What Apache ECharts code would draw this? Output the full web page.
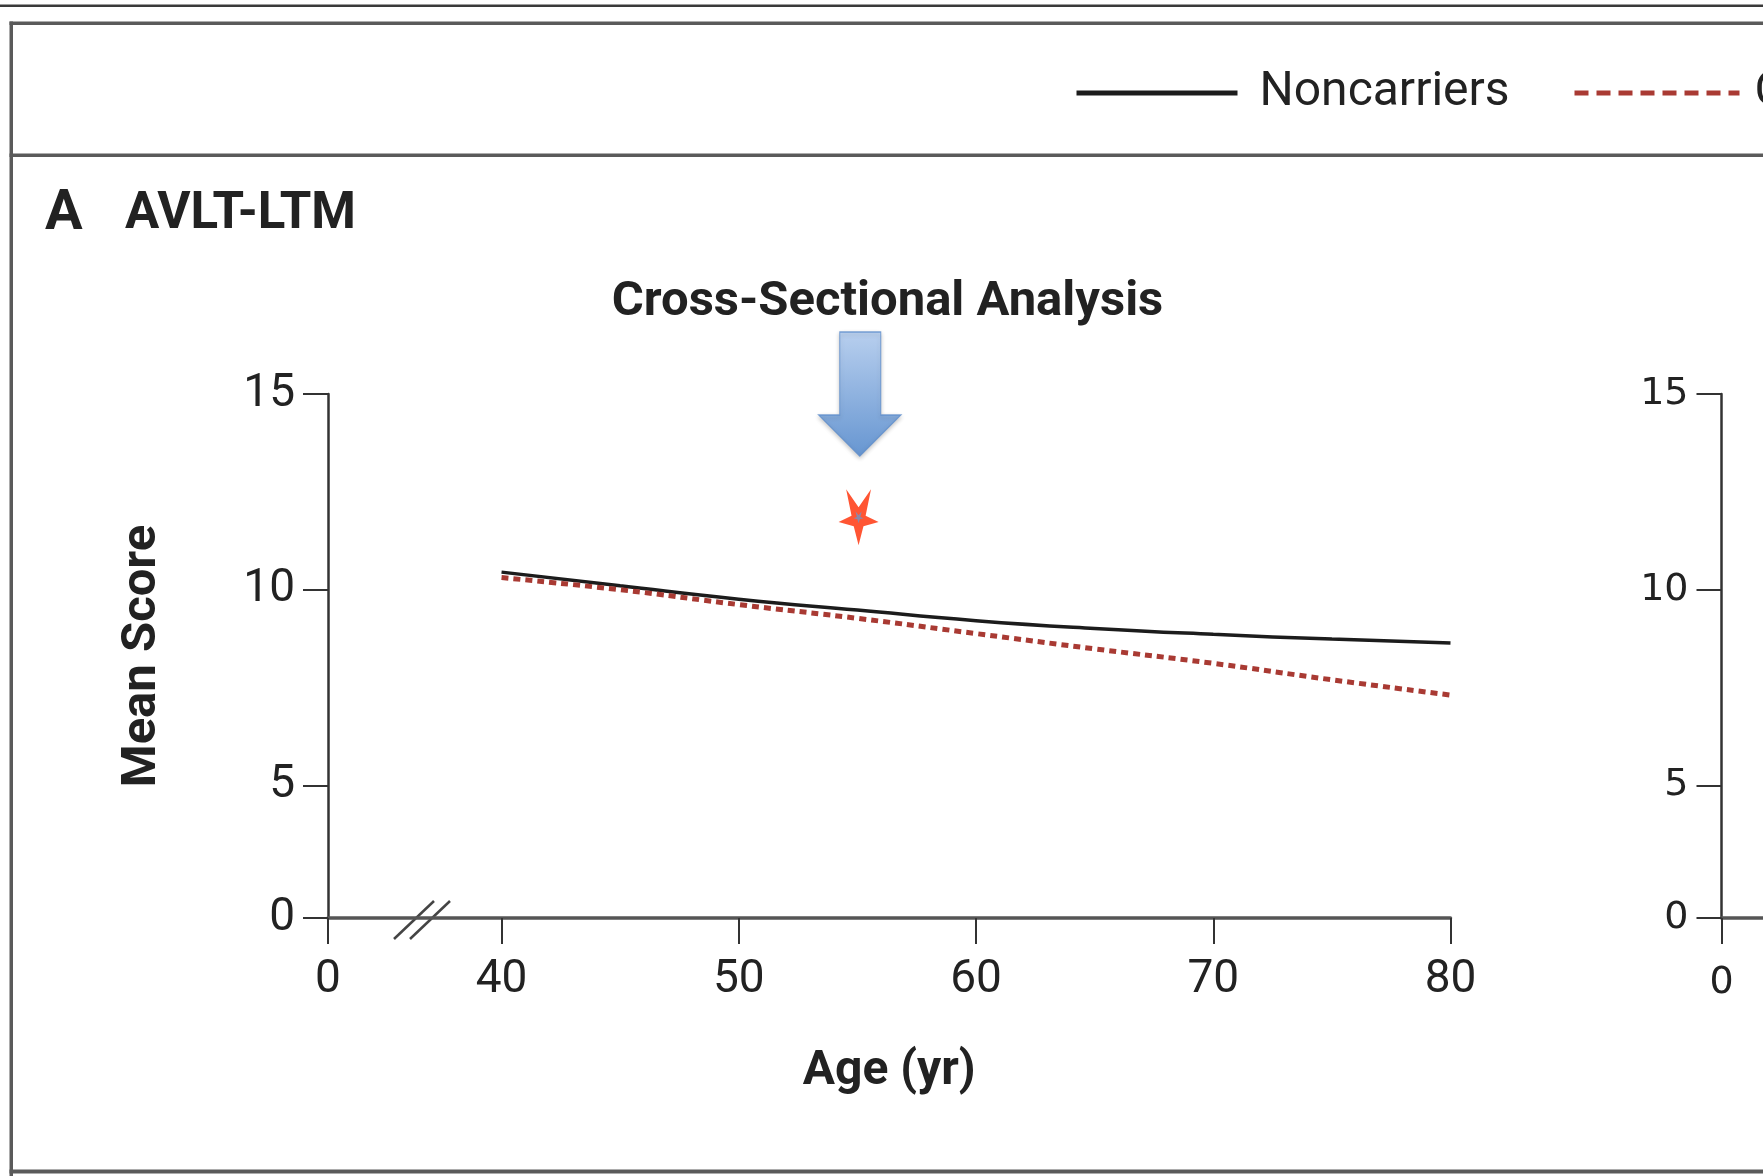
<!DOCTYPE html>
<html>
<head>
<meta charset="utf-8">
<script src="https://cdn.jsdelivr.net/npm/echarts@6.0.0/dist/echarts.min.js"></script>
<style>
  html, body { margin: 0; padding: 0; background: #fff; }
  #main { width: 1763px; height: 1176px; }
</style>
</head>
<body>
<div id="main"></div>
<script>
// Age (yr) at which the fitted curves are read.
const ages = [40, 45, 50, 55, 60, 65, 70, 75, 80];
// Mean AVLT-LTM score per group, cross-sectional fit.
const noncarrierScores = [10.45, 10.10, 9.76, 9.48, 9.21, 9.01, 8.86, 8.74, 8.64];
const carrierScores    = [10.31, 10.00, 9.62, 9.27, 8.88, 8.49, 8.12, 7.70, 7.31];
const seriesNames = ['Noncarriers', 'Carriers'];

// Tick labels.
const xTicks = [0, 40, 50, 60, 70, 80];
const yTicks = [0, 5, 10, 15];

// Stretches of the axes that are squeezed (broken axis).
const ageBreak   = [0, 40];
const scoreBreak = [0, 5];

// Arrow and star drawn over the plot.
const arrowPoint = [55.1, 15.0];
const starPoint  = [55.05, 11.85];

const textFont = 'Roboto, "Liberation Sans", sans-serif';
const tickFont = '"Liberation Sans Narrow", Roboto, sans-serif';
const sideFont = '"DejaVu Sans", sans-serif';
const ink = '#222';

// grid of the left panel, the right panel only peeks in at the edge
const gridLeft = 328, gridTop = 394, gridWidth = 1122.5, gridHeight = 524;
const grid2Left = 1721.5;

function pairs(xs, ys){
    return xs.map(function(x, i){ return [x, ys[i]]; });
}

function ageAxis(gridIndex, font, size, margin){
    return {
        type: 'value', gridIndex: gridIndex, min: 0, max: 80,
        breaks: [{start: ageBreak[0], end: ageBreak[1], gap: '15.46%'}],
        breakArea: {show: false},
        axisLine: {show: true, onZero: false, breakLine: false, lineStyle: {color: '#555', width: 3.5}},
        axisTick: {show: true, length: 26, customValues: xTicks, lineStyle: {color: '#333', width: 2}},
        axisLabel: {customValues: xTicks, margin: margin, fontFamily: font, fontSize: size, color: ink},
        splitLine: {show: false},
        name: gridIndex === 0 ? 'Age (yr)' : '',
        nameLocation: 'middle', nameGap: 130,
        nameTextStyle: {fontFamily: textFont, fontSize: 48, fontWeight: 'bold', color: ink}
    };
}

function scoreAxis(gridIndex, font, size){
    return {
        type: 'value', gridIndex: gridIndex, min: 0, max: 15,
        breaks: [{start: scoreBreak[0], end: scoreBreak[1], gap: '25.29%'}],
        breakArea: {show: false},
        axisLine: {show: true, onZero: false, breakLine: false, lineStyle: {color: '#333', width: 2.5}},
        axisTick: {show: true, length: 25, customValues: yTicks, lineStyle: {color: '#333', width: 2}},
        axisLabel: {customValues: yTicks, margin: 33, fontFamily: font, fontSize: size, color: ink},
        splitLine: {show: false},
        name: gridIndex === 0 ? 'Mean Score' : '',
        nameLocation: 'middle', nameGap: 161, nameRotate: 90,
        nameTextStyle: {fontFamily: textFont, fontSize: 49, fontWeight: 'bold', color: ink}
    };
}

function frameRect(x, y, w, h, color){
    return {type: 'rect', shape: {x: x, y: y, width: w, height: h}, style: {fill: color}, silent: true};
}

function headerText(text, x, y, size, align){
    return {
        type: 'text', x: x, y: y, silent: true,
        style: {text: text, fill: ink, align: align, verticalAlign: 'middle',
                font: 'bold ' + size + 'px ' + textFont}
    };
}

function createChart(){
    let chart = echarts.init(document.getElementById('main'));
    const bottom = gridTop + gridHeight;

    let option = {
        backgroundColor: '#fff',
        animation: false,
        grid: [
            {left: gridLeft, top: gridTop, width: gridWidth, height: gridHeight, outerBoundsMode: 'none', containLabel: false},
            {left: grid2Left, top: gridTop, width: gridWidth, height: gridHeight, outerBoundsMode: 'none', containLabel: false}
        ],
        xAxis: [ageAxis(0, tickFont, 46, 39), ageAxis(1, sideFont, 38, 46)],
        yAxis: [scoreAxis(0, tickFont, 46), scoreAxis(1, sideFont, 38)],
        legend: [
            {data: [seriesNames[0]], left: 1074, top: 69, padding: 0, selectedMode: false,
             itemWidth: 161, itemHeight: 14, lineStyle: {width: 5}, itemStyle: {opacity: 0},
             textStyle: {fontFamily: textFont, fontSize: 48, color: ink, padding: [0, 0, 0, 17]}},
            {data: [seriesNames[1]], left: 1572, top: 69, padding: 0, selectedMode: false,
             itemWidth: 165, itemHeight: 14, lineStyle: {width: 5, type: [14, 8]}, itemStyle: {opacity: 0},
             textStyle: {fontFamily: textFont, fontSize: 48, color: ink, padding: [0, 0, 0, 10]}}
        ],
        series: [
            {
                name: seriesNames[0], type: 'line', xAxisIndex: 0, yAxisIndex: 0,
                data: pairs(ages, noncarrierScores), smooth: true, symbol: 'none',
                itemStyle: {color: '#1c1c1c'},
                lineStyle: {color: '#1c1c1c', width: 3.5}
            },
            {
                name: seriesNames[1], type: 'line', xAxisIndex: 0, yAxisIndex: 0,
                data: pairs(ages, carrierScores), smooth: true, symbol: 'none',
                itemStyle: {color: '#a93a33'},
                lineStyle: {color: '#a93a33', width: 5, type: [7, 5]}
            },
            {
                name: 'arrow', type: 'scatter', xAxisIndex: 0, yAxisIndex: 0, silent: true, z: 5,
                data: [arrowPoint],
                symbol: 'path://M21,0 L62,0 L62,83 L82,83 L41,124 L0,83 L21,83 Z',
                symbolSize: [82, 124],
                itemStyle: {
                    color: {type: 'linear', x: 0, y: 0, x2: 0, y2: 1,
                            colorStops: [{offset: 0, color: '#b3d0f7'}, {offset: 1, color: '#4d88d2'}]},
                    borderColor: '#5b8ccc', borderWidth: 1.2,
                    shadowColor: 'rgba(0,0,0,0.25)', shadowBlur: 4, shadowOffsetY: 2
                }
            },
            {
                name: 'star', type: 'scatter', xAxisIndex: 0, yAxisIndex: 0, silent: true, z: 5,
                data: [
                    {value: starPoint, symbolSize: [40, 56], itemStyle: {color: '#ff2a00'}},
                    {value: starPoint, symbolSize: [10, 12], itemStyle: {color: '#6f95c4'}}
                ],
                symbol: 'path://M7,0 L18.5,17 L30,0 L25,25 L37,31 L23,35 L18.5,53 L14,35 L0,31 L12,25 Z'
            }
        ],
        graphic: [
            frameRect(0, 4.5, 1763, 2.5, '#3a3a3a'),
            frameRect(9.5, 21.5, 1753.5, 3.5, '#5a5a5a'),
            frameRect(9.5, 21.5, 3.5, 1154.5, '#5a5a5a'),
            frameRect(9.5, 153.5, 1753.5, 3.5, '#5a5a5a'),
            frameRect(9.5, 1169.5, 1753.5, 4, '#5a5a5a'),
            headerText('A', 45, 215, 56, 'left'),
            headerText('AVLT-LTM', 125, 215.5, 51, 'left'),
            headerText('Cross-Sectional Analysis', 887.5, 303, 49, 'center'),
            // the two slashes marking the break on the age axis
            {type: 'line', silent: true, shape: {x1: gridLeft + 66, y1: bottom + 21, x2: gridLeft + 106, y2: bottom - 17},
             style: {stroke: '#444', lineWidth: 2.5}},
            {type: 'line', silent: true, shape: {x1: gridLeft + 82, y1: bottom + 21, x2: gridLeft + 122, y2: bottom - 17},
             style: {stroke: '#444', lineWidth: 2.5}}
        ]
    };

    chart.setOption(option);
}

createChart();
</script>
</body>
</html>
